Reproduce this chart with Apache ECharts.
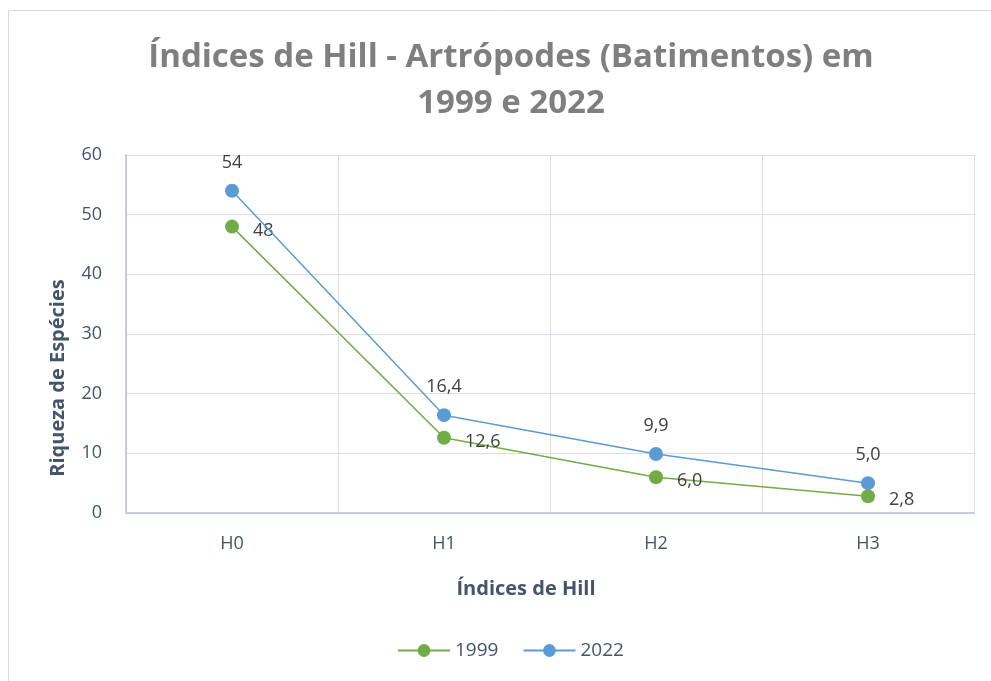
<!DOCTYPE html>
<html>
<head>
<meta charset="utf-8">
<script src="https://cdn.jsdelivr.net/npm/echarts@6/dist/echarts.min.js"></script>
<style>
html, body { margin: 0; padding: 0; background: #fff; }
#echart { width: 991px; height: 681px; }
</style>
</head>
<body>
<div id="echart"></div>
<script>
var categories = ["H0", "H1", "H2", "H3"];
var yTicks = [0, 10, 20, 30, 40, 50, 60];
var values1999 = [48, 12.6, 6.0, 2.8];
var values2022 = [54, 16.4, 9.9, 5.0];

var chartDom = document.getElementById('echart');
var myChart = echarts.init(chartDom);

var fontFam = "'Open Sans', 'Noto Sans', sans-serif";

// comma as decimal separator, integers above 20 without decimals
function fmt(p) {
    var v = p.value;
    if (Number.isInteger(v) && v > 20) return String(v);
    return v.toFixed(1).replace('.', ',');
}

var option = {
    backgroundColor: '#fff',
    textStyle: { fontFamily: fontFam },
    graphic: [{
        type: 'rect',
        shape: { x: 8.5, y: 10.5, width: 1000, height: 700 },
        style: { fill: 'none', stroke: '#d9d9d9', lineWidth: 1 },
        silent: true
    }],
    title: {
        text: 'Índices de Hill - Artrópodes (Batimentos) em\n1999 e 2022',
        left: 506,
        textAlign: 'center',
        top: 30,
        textStyle: {
            fontFamily: fontFam,
            fontSize: 33,
            fontWeight: 'bold',
            color: '#7f7f7f',
            lineHeight: 46
        }
    },
    legend: {
        bottom: 16,
        left: 392,
        itemWidth: 52,
        itemHeight: 16,
        itemGap: 24,
        textStyle: { fontSize: 19, color: '#44546a', fontFamily: fontFam },
        data: ['1999', '2022']
    },
    grid: {
        left: 126,
        right: 17,
        top: 155,
        bottom: 168
    },
    xAxis: {
        type: 'category',
        data: categories,
        boundaryGap: true,
        name: 'Índices de Hill',
        nameLocation: 'middle',
        nameGap: 66,
        nameTextStyle: {
            fontSize: 20, fontWeight: 'bold', color: '#44546a', fontFamily: fontFam,
            padding: [0, 48, 0, 0]
        },
        axisLine: { lineStyle: { color: '#b4c0d2', width: 1.5 } },
        axisTick: { show: false },
        axisLabel: { margin: 22, fontSize: 18, color: '#44546a' },
        splitLine: { show: true, lineStyle: { color: '#d9dde5', width: 1 } }
    },
    yAxis: {
        type: 'value',
        min: yTicks[0],
        max: yTicks[yTicks.length - 1],
        interval: 10,
        name: 'Riqueza de Espécies',
        nameLocation: 'middle',
        nameGap: 58,
        nameTextStyle: {
            fontSize: 20, fontWeight: 'bold', color: '#44546a', fontFamily: fontFam,
            padding: [0, 88, 0, 0]
        },
        axisLine: { show: true, lineStyle: { color: '#b4c0d2', width: 1.5 } },
        axisTick: { show: false },
        axisLabel: { margin: 24, fontSize: 18, color: '#44546a' },
        splitLine: { lineStyle: { color: '#d9dde5', width: 1 } }
    },
    series: [{
        name: '1999',
        type: 'line',
        data: values1999,
        symbol: 'circle',
        symbolSize: 14,
        itemStyle: { color: '#70ad47' },
        lineStyle: { color: '#70ad47', width: 1.5 },
        label: {
            show: true,
            position: 'right',
            distance: 14,
            offset: [0, 4],
            fontSize: 18,
            color: '#404040',
            formatter: fmt
        },
        z: 3
    }, {
        name: '2022',
        type: 'line',
        data: values2022,
        symbol: 'circle',
        symbolSize: 14,
        itemStyle: { color: '#5b9bd5' },
        lineStyle: { color: '#5b9bd5', width: 1.5 },
        label: {
            show: true,
            position: 'top',
            distance: 12,
            fontSize: 18,
            color: '#404040',
            formatter: fmt
        },
        z: 4
    }]
};

myChart.setOption(option);

window.addEventListener("resize", function () {
    myChart.resize();
});
</script>
</body>
</html>
